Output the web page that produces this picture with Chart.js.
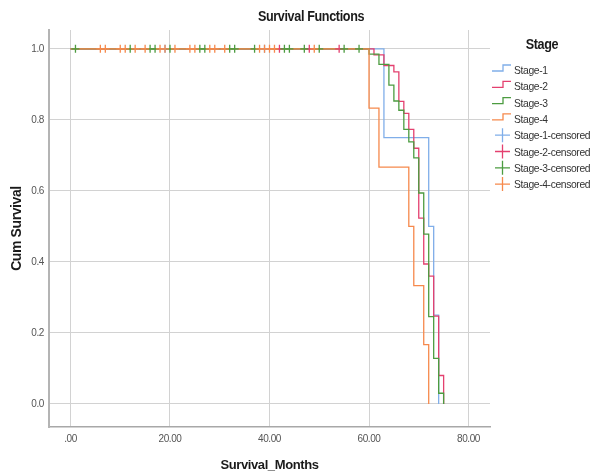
<!DOCTYPE html>
<html><head><meta charset="utf-8">
<script src="https://cdn.jsdelivr.net/npm/chart.js@4.4.0/dist/chart.umd.min.js"></script>
<style>html,body{margin:0;padding:0;background:#fff;} #wrap{width:594px;height:476px;position:relative;}</style>
</head><body><div id="wrap"><canvas id="c" width="594" height="476"></canvas></div>
<script>
const chartTitle = 'Survival Functions';
const xAxisTitle = 'Survival_Months';
const yAxisTitle = 'Cum Survival';
const legendTitle = 'Stage';
const stageNames = ['Stage-1', 'Stage-2', 'Stage-3', 'Stage-4'];
const xTickValues = [0, 20, 40, 60, 80];
const xTickLabels = ['.00', '20.00', '40.00', '60.00', '80.00'];
const yTickValues = [0, 0.2, 0.4, 0.6, 0.8, 1.0];
const yTickLabels = ['0.0', '0.2', '0.4', '0.6', '0.8', '1.0'];

const stage1Times = [0, 63, 72, 73, 74];
const stage1Surv  = [1, 0.75, 0.5, 0.25, 0];
const stage2Times = [0, 61, 63, 65, 66, 67, 68, 69, 70, 71, 72, 73, 74, 75];
const stage2Surv  = [1, 0.983, 0.953, 0.935, 0.852, 0.818, 0.773, 0.72, 0.523, 0.394, 0.36, 0.247, 0.08, 0];
const stage3Times = [0, 60, 62, 64, 65, 66, 67, 68, 69, 70, 71, 72, 73, 74, 75];
const stage3Surv  = [1, 0.985, 0.956, 0.898, 0.853, 0.827, 0.773, 0.738, 0.693, 0.594, 0.478, 0.246, 0.128, 0.03, 0];
const stage4Times = [0, 60, 62, 68, 69, 71, 72];
const stage4Surv  = [1, 0.833, 0.667, 0.5, 0.333, 0.167, 0];

const stage1Censored = [19, 39];
const stage2Censored = [42, 48, 54];
const stage3Censored = [1, 12, 16, 17, 20, 26, 27, 32, 33, 37, 43, 44, 47, 50, 55, 58];
const stage4Censored = [6, 7, 10, 11, 13, 15, 18, 19, 21, 24, 25, 28, 29, 31, 38, 39, 40, 41, 49];

const stageColors = ['#80aee9', '#e4406f', '#4c9c40', '#f6894c'];
const FONT = '"Liberation Sans", Arial, sans-serif';

const allTimes = [stage1Times, stage2Times, stage3Times, stage4Times];
const allSurv = [stage1Surv, stage2Surv, stage3Surv, stage4Surv];
const allCens = [stage1Censored, stage2Censored, stage3Censored, stage4Censored];

function survAt(times, surv, t) {
  let s = 1;
  for (let i = 0; i < times.length; i++) if (times[i] <= t) s = surv[i];
  return s;
}

const datasets = [];
stageNames.forEach((name, i) => {
  datasets.push({
    type: 'line', label: name, kind: 'step',
    data: allTimes[i].map((t, k) => ({x: t, y: allSurv[i][k]})),
    borderColor: stageColors[i], borderWidth: 1.3, stepped: 'before',
    pointRadius: 0, fill: false, order: 10 - i
  });
});
stageNames.forEach((name, i) => {
  datasets.push({
    type: 'scatter', label: name + '-censored', kind: 'plus',
    data: allCens[i].map(t => ({x: t, y: survAt(allTimes[i], allSurv[i], t)})),
    borderColor: stageColors[i], backgroundColor: stageColors[i],
    pointStyle: 'cross', pointRadius: 4, borderWidth: 1.3, showLine: false, order: 5 - i
  });
});

function condensedText(ctx, text, x, y, sx) {
  ctx.save();
  ctx.translate(x, y);
  ctx.scale(sx, 1);
  ctx.fillText(text, 0, 0);
  ctx.restore();
}

const overlay = {
  id: 'overlay',
  beforeDraw(chart) { chart.ctx.letterSpacing = '-0.4px'; },
  afterDraw(chart) {
    const ctx = chart.ctx;
    ctx.save();
    ctx.fillStyle = '#1a1a1a';
    ctx.textBaseline = 'middle';
    ctx.textAlign = 'center';
    ctx.font = 'bold 14px ' + FONT;
    condensedText(ctx, chartTitle, 311, 17, 0.9);
    ctx.font = 'bold 14px ' + FONT;
    condensedText(ctx, legendTitle, 542, 45, 0.9);
    ctx.textAlign = 'left';
    ctx.font = '11px ' + FONT;
    chart.data.datasets.forEach((ds, i) => {
      const cy = 70 + i * 16.3;
      ctx.strokeStyle = ds.borderColor;
      ctx.lineWidth = 1.3;
      ctx.beginPath();
      if (ds.kind === 'step') {
        ctx.moveTo(492, cy + 1); ctx.lineTo(503, cy + 1); ctx.lineTo(503, cy - 5); ctx.lineTo(511, cy - 5);
      } else {
        ctx.moveTo(495, cy); ctx.lineTo(510, cy); ctx.moveTo(502.5, cy - 7); ctx.lineTo(502.5, cy + 7);
      }
      ctx.stroke();
      ctx.fillStyle = '#333';
      condensedText(ctx, ds.label, 514, cy + 1, 0.94);
    });
    ctx.restore();
  }
};

new Chart(document.getElementById('c'), {
  data: {datasets},
  plugins: [overlay],
  options: {
    responsive: false, animation: false,
    layout: {padding: {left: 0, right: 104, top: 30, bottom: 0}},
    plugins: {legend: {display: false}, title: {display: false}, tooltip: {enabled: false}},
    scales: {
      x: {
        type: 'linear', min: -4.32, max: 84.32,
        afterFit(s) { s.height = 49; },
        afterBuildTicks(s) { s.ticks = xTickValues.map(v => ({value: v})); },
        ticks: {padding: 6, color: '#555', font: {family: FONT, size: 10},
          callback: (v) => xTickLabels[xTickValues.indexOf(v)] ?? ''},
        grid: {color: '#d2d2d2', lineWidth: 1, drawTicks: false},
        border: {color: '#a8a8a8', width: 1.5},
        title: {display: true, text: xAxisTitle, color: '#1a1a1a', font: {family: FONT, size: 13, weight: 'bold'}, padding: {top: 0, bottom: 3}}
      },
      y: {
        type: 'linear', min: -0.065, max: 1.053,
        afterFit(s) { s.width = 49; },
        afterBuildTicks(s) { s.ticks = yTickValues.map(v => ({value: v})); },
        ticks: {padding: 5, color: '#555', font: {family: FONT, size: 10},
          callback: (v) => yTickLabels[yTickValues.indexOf(v)] ?? ''},
        grid: {color: '#d2d2d2', lineWidth: 1, drawTicks: false},
        border: {color: '#b4b4b4', width: 2},
        title: {display: true, text: yAxisTitle, color: '#1a1a1a', font: {family: FONT, size: 14, weight: 'bold'}, padding: {top: 9, bottom: 0}}
      }
    }
  }
});
</script></body></html>
